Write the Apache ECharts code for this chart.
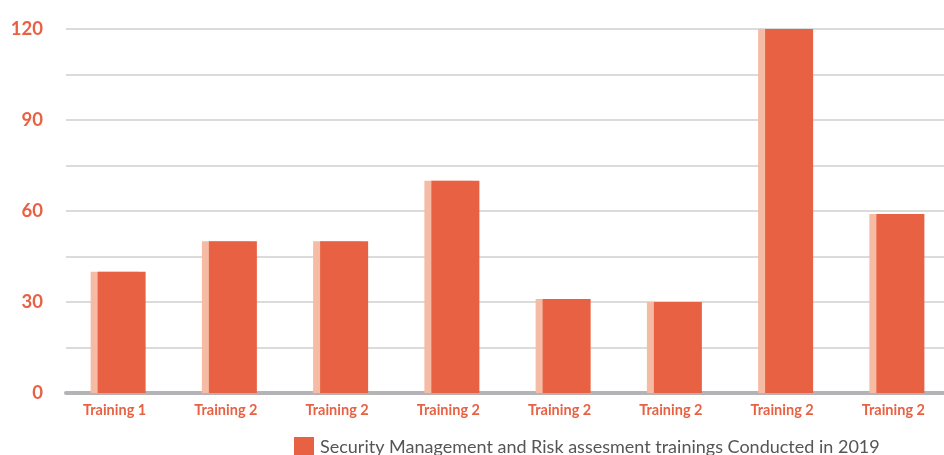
<!DOCTYPE html>
<html>
<head>
<meta charset="utf-8">
<script src="https://cdn.jsdelivr.net/npm/echarts@6/dist/echarts.min.js"></script>
<style>
  html, body { margin: 0; padding: 0; background: #fff; overflow: hidden; }
  #chart { width: 960px; height: 455px; }
</style>
</head>
<body>
<div id="chart"></div>
<script>
// Training sessions and the number of people trained in each
const categories = ['Training 1', 'Training 2', 'Training 2', 'Training 2', 'Training 2', 'Training 2', 'Training 2', 'Training 2'];
const trainedCounts = [40, 50, 50, 70, 31, 30, 120, 59];
const seriesName = 'Security Management and Risk assesment trainings Conducted in 2019';

const accent = '#e86143';
const accentLight = '#f6bba5';

const chart = echarts.init(document.getElementById('chart'));
chart.setOption({
  animation: false,
  grid: { left: 66, top: 29, width: 890, bottom: 62, containLabel: false },
  legend: {
    data: [seriesName],
    left: 294,
    top: 437,
    padding: 0,
    itemWidth: 20,
    itemHeight: 20,
    itemGap: 7,
    icon: 'rect',
    textStyle: { fontFamily: 'Lato', fontSize: 18, color: '#555', padding: [0, 0, 0, 1] }
  },
  xAxis: {
    type: 'category',
    data: categories,
    axisTick: { show: false },
    axisLine: { lineStyle: { color: '#b3b3b8', width: 4 } },
    axisLabel: {
      fontFamily: 'Lato', fontWeight: 'bold', fontSize: 14.5, color: accent,
      margin: 10, padding: [0, 14, 0, 0]
    }
  },
  yAxis: {
    type: 'value',
    min: 0, max: 120, interval: 15,
    axisLine: { show: false },
    axisTick: { show: false },
    splitLine: { lineStyle: { color: '#cfcfcf', width: 1.5 } },
    axisLabel: {
      fontFamily: 'Lato', fontWeight: 'bold', fontSize: 18.5, color: accent,
      margin: 23,
      formatter: v => (v % 30 === 0 ? String(v) : '')
    }
  },
  series: [{
    name: seriesName,
    type: 'bar',
    data: trainedCounts,
    barWidth: 48,
    itemStyle: {
      color: accent,
      shadowColor: accentLight,
      shadowBlur: 0,
      shadowOffsetX: -7,
      shadowOffsetY: 0
    }
  }]
});
</script>
</body>
</html>
